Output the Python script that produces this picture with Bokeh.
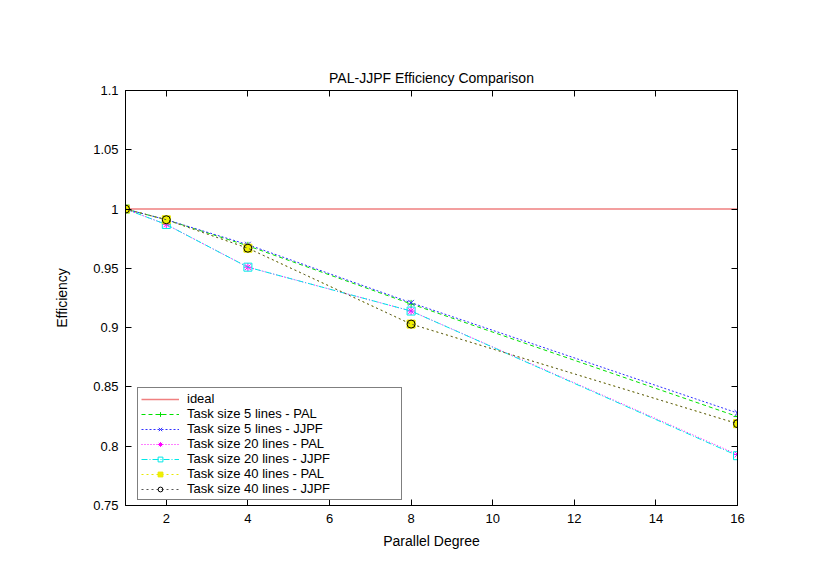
from bokeh.plotting import figure
from bokeh.models import FixedTicker, LinearAxis, Legend, LegendItem, Range1d
from bokeh.embed import file_html
from bokeh.resources import INLINE

# ---- data ----
degrees = [1, 2, 4, 8, 16]
ideal = [1.0, 1.0, 1.0, 1.0, 1.0]
pal_5 = [1.0, 0.991, 0.969, 0.920, 0.825]
jjpf_5 = [1.0, 0.991, 0.970, 0.921, 0.828]
pal_20 = [1.0, 0.987, 0.951, 0.914, 0.793]
jjpf_20 = [1.0, 0.987, 0.951, 0.914, 0.792]
pal_40 = [1.0, 0.991, 0.967, 0.903, 0.819]
jjpf_40 = [1.0, 0.991, 0.967, 0.903, 0.819]

x_ticks = [2, 4, 6, 8, 10, 12, 14, 16]
y_ticks = [0.75, 0.8, 0.85, 0.9, 0.95, 1.0, 1.05, 1.1]
y_tick_labels = ["0.75", "0.8", "0.85", "0.9", "0.95", "1", "1.05", "1.1"]

FONT = "Liberation Sans"

p = figure(width=814, height=571, output_backend="svg", toolbar_location=None,
           x_range=Range1d(1, 16), y_range=Range1d(0.75, 1.1),
           min_border_left=125, min_border_right=77, min_border_top=90, min_border_bottom=66,
           title="PAL-JJPF Efficiency Comparison")
p.title.align = "center"
p.title.text_font = FONT
p.title.text_font_size = "14px"
p.title.text_font_style = "normal"
p.title.text_color = "black"
p.title.offset = 0
p.title.standoff = 10
p.grid.visible = False
p.outline_line_color = "black"
p.outline_line_width = 1
p.background_fill_color = "white"
p.border_fill_color = "white"

def style_axis(ax, labels=True):
    ax.major_tick_in = 6
    ax.major_tick_out = 0
    ax.minor_tick_in = 0
    ax.minor_tick_out = 0
    ax.axis_line_color = "black"
    ax.major_tick_line_color = "black"
    ax.major_label_text_font = FONT
    ax.major_label_text_font_size = "13px"
    ax.major_label_text_color = "black"
    ax.axis_label_text_font = FONT
    ax.axis_label_text_font_size = "14px"
    ax.axis_label_text_font_style = "normal"
    ax.axis_label_text_color = "black"
    if not labels:
        ax.major_label_text_font_size = "0px"
        ax.major_label_text_alpha = 0

p.xaxis.ticker = FixedTicker(ticks=x_ticks)
p.yaxis.ticker = FixedTicker(ticks=y_ticks)
p.yaxis.major_label_overrides = {t: l for t, l in zip(y_ticks, y_tick_labels)}
p.xaxis.axis_label = "Parallel Degree"
p.yaxis.axis_label = "Efficiency"
style_axis(p.xaxis[0])
style_axis(p.yaxis[0])
p.xaxis.major_label_standoff = 8
p.yaxis.major_label_standoff = 7
p.xaxis.axis_label_standoff = 7
p.yaxis.axis_label_standoff = 20

top = LinearAxis(ticker=FixedTicker(ticks=x_ticks))
style_axis(top, labels=False)
p.add_layout(top, "above")
right = LinearAxis(ticker=FixedTicker(ticks=y_ticks))
style_axis(right, labels=False)
p.add_layout(right, "right")

items = []
r = p.line(degrees, ideal, line_color="#f08080", line_width=1.5)
items.append(LegendItem(label="ideal", renderers=[r]))

series = [
    ("Task size 5 lines - PAL", pal_5, "#00e000", "4 3", "cross", None),
    ("Task size 5 lines - JJPF", jjpf_5, "#3030ff", "2 2", "x", None),
    ("Task size 20 lines - PAL", pal_20, "#ff00ff", "1 2", "asterisk", None),
    ("Task size 20 lines - JJPF", jjpf_20, "#00e8e8", "6 2 1 2", "square", None),
    ("Task size 40 lines - PAL", pal_40, "#e8e800", "2 3", "square", "#f0f000"),
    ("Task size 40 lines - JJPF", jjpf_40, "#555555", "2 3", "circle", None),
]
for label, ys, color, dash, marker, fill in series:
    ln = p.line(degrees, ys, line_color=color, line_width=1, line_dash=dash)
    sc = p.scatter(degrees, ys, marker=marker, size=8,
                   line_color=color if marker != "circle" else "black",
                   fill_color=fill if fill else None, line_width=1)
    items.append(LegendItem(label=label, renderers=[ln, sc]))

legend = Legend(items=items, location=(12, 5))
legend.label_text_font = FONT
legend.label_text_font_size = "13px"
legend.label_text_color = "black"
legend.glyph_height = 12
legend.glyph_width = 38
legend.label_height = 12
legend.label_width = 211
legend.label_standoff = 8
legend.spacing = 0
legend.padding = 3
legend.margin = 0
legend.border_line_color = "black"
legend.border_line_width = 1
legend.background_fill_alpha = 1
p.add_layout(legend, "center")

open("out.html", "w").write(file_html(p, INLINE))
